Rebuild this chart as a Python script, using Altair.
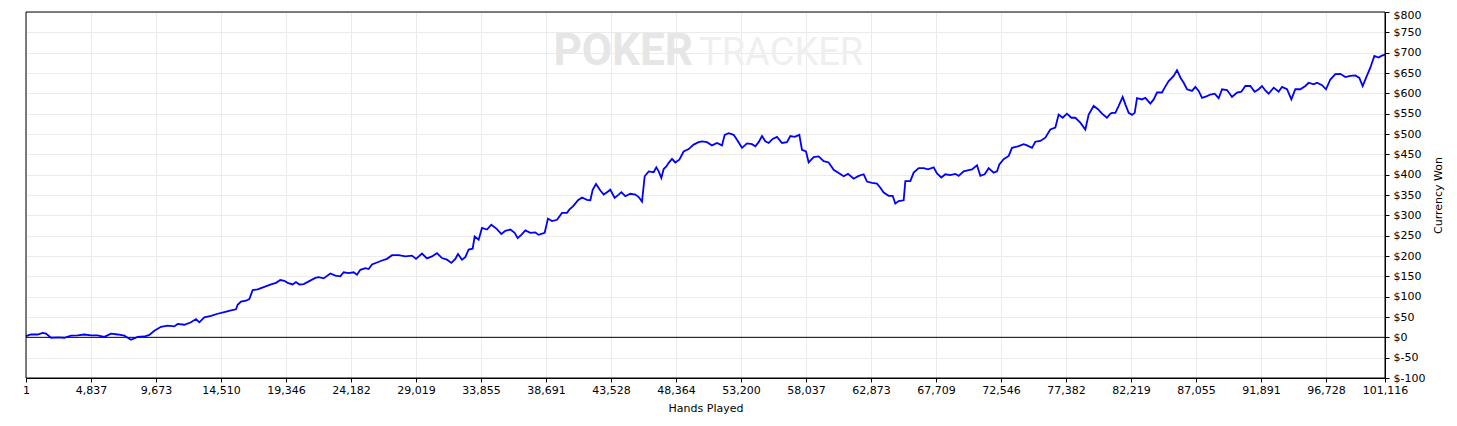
import altair as alt
import pandas as pd

# Hands played (x) and currency won (y)
hands_a = [1,373,869,1241,1489,1861,2357,2853,3349,3845,4341,4837,5333,5829,6325,6821,7317,7813,8309,8805,9177,9549,10045,10541,11037,11285,11781,12277,12649,12897,13269,13765,14261,14757,15253,15625,15749,15997,16369,16617,16865,17237,17733,18229,18601,18923,19221,19469,19841,20089,20337,20660]
won_a = [3,7,7,11,9,-1,0,-1,4,5,7,5,5,1,9,7,4,-6,1,2,6,16,26,29,27,33,31,37,45,37,49,53,58,62,66,69,80,88,90,94,116,118,124,130,134,141,139,134,130,136,130,131]

hands_b = [21528,21776,22148,22644,23016,23388,23636,24008,24380,24628,24876,25248,25496,25744,26116,26488,26860,27232,27728,28224,28720,29018,29464,29836,30208,30580,30952,31324,31647,31944,32143,32440,32688,32936,33234,33383,33680,33928,34300,34623,35044,35367,35664,36036,36359,36582,36855,37152,37524,37896,38144,38591,38839,39136,39508,39880,40252,40426,40748,41071]
won_b = [146,148,145,157,152,150,160,158,160,154,166,170,168,179,184,189,193,202,202,199,201,193,206,194,199,207,195,191,183,193,205,191,197,216,218,248,240,269,265,277,266,254,262,265,257,244,252,263,257,258,252,257,292,286,289,306,306,314,324,337]

hands_c = [41370,41742,41990,42164,42412,42734,42982,43230,43478,43801,44098,44297,44594,44966,45338,45586,45834,46033,46330,46702,46901,47074,47273,47446,47645,47818,48066,48314,48612,48934,49306,49678,50050,50298,50670,51042,51414,51786,51985,52282,52654,52902,53274,53646,54018,54266,54514,54762,55010,55258,55556,55878,56250,56622,56870,57193,57540,57738,58036,58234,58606,58978,59350,59722,60094,60466,60838,61161]
won_c = [344,338,337,363,377,361,351,357,363,343,351,357,347,353,351,345,334,396,408,406,418,408,392,414,420,429,439,430,437,457,463,474,480,482,480,472,478,472,498,502,498,486,466,477,475,470,480,495,482,478,488,493,478,480,495,493,498,461,457,430,443,445,433,430,412,404,396,402]

hands_d = [61583,61955,62327,62575,62947,63319,63567,63815,64187,64485,64683,64931,65303,65427,65799,66047,66419,66791,67114,67535,67783,68106,68403,68775,69147,69395,69767,70139,70387,70759,71007,71330,71627,71999,72247,72421,72743,73115,73363,73859,74231,74479,74851,75099,75471,75843,76215,76587,76835,77133,77455,77778,78075,78447,78819,79067,79439,79762,80059,80431,80679]
won_d = [390,397,401,383,380,378,368,356,348,348,329,335,337,384,384,405,416,416,413,418,403,393,401,399,402,397,408,411,413,423,397,401,416,405,408,425,438,446,466,470,475,472,466,481,483,491,511,516,548,540,550,540,540,528,511,548,569,561,550,540,550]

hands_e = [80805,81053,81301,81599,81797,82045,82293,82492,82665,83037,83285,83657,83905,84153,84525,84724,85021,85393,85641,85889,86137,86385,86757,87005,87253,87501,87873,88121,88444,88741,88989,89361,89733,90105,90428,90725,91097,91420,91717,91965,92213,92461,92833,93205,93453,93825,94148,94445,94817,95189,95437,95809,96057,96429,96727,97049,97421,97793,98165,98537,98909,99207,99455,99703,100025,100323,100645,100844,101116]
won_e = [552,552,569,591,573,552,547,552,588,585,589,575,585,602,602,614,630,643,657,639,626,610,606,616,606,589,593,597,599,588,610,608,591,602,604,618,618,604,610,618,607,599,614,604,616,610,585,610,610,618,626,622,626,620,610,634,647,648,640,643,644,638,618,638,663,692,688,692,695]

x_ticks = [1,4837,9673,14510,19346,24182,29019,33855,38691,43528,48364,53200,58037,62873,67709,72546,77382,82219,87055,91891,96728,101116]
y_ticks = [-100,-50,0,50,100,150,200,250,300,350,400,450,500,550,600,650,700,750,800]

df = pd.DataFrame({
    "hands": hands_a + hands_b + hands_c + hands_d + hands_e,
    "won": won_a + won_b + won_c + won_d + won_e,
})

W, H = 1359, 366
FONT = "DejaVu Sans"

xscale = alt.Scale(domain=[1, 101116], nice=False, zero=False)
yscale = alt.Scale(domain=[-100, 800], nice=False, zero=False)

x_axis = alt.Axis(values=x_ticks, format=",d", title="Hands Played",
                  labelFlush=False, labelOverlap=False, tickSize=4,
                  labelPadding=2, titleY=24)
y_axis = alt.Axis(orient="right", values=y_ticks,
                  labelExpr="'$' + datum.value", title="Currency Won",
                  labelOverlap=False, tickSize=4, labelPadding=4,
                  labelFlush=False,
                  labelOffset={"condition": {"test": "datum.value >= 800", "value": 3}, "value": 0},
                  titleAngle=270, titleX=53, titleY=H / 2,
                  titleBaseline="middle", titleAlign="center")

line = alt.Chart(df).mark_line(color="#0000ff", strokeWidth=1.8).encode(
    x=alt.X("hands:Q", scale=xscale, axis=x_axis),
    y=alt.Y("won:Q", scale=yscale, axis=y_axis),
)

zero = alt.Chart(pd.DataFrame({"won": [0]})).mark_rule(
    color="black", strokeWidth=1
).encode(y=alt.Y("won:Q", scale=yscale, axis=y_axis))

wm1 = alt.Chart(pd.DataFrame({"t": ["POKER"]})).mark_text(
    align="right", baseline="alphabetic", font="Roboto", fontSize=44,
    fontWeight="bold", color="#e6e6e6"
).encode(text="t:N", x=alt.value(667), y=alt.value(53))

wm2 = alt.Chart(pd.DataFrame({"t": ["TRACKER"]})).mark_text(
    align="left", baseline="alphabetic", font="Roboto", fontSize=38,
    fontWeight="normal", color="#efefef"
).encode(text="t:N", x=alt.value(673), y=alt.value(53))

frame = alt.Chart(pd.DataFrame({"k": [0]})).mark_rect(
    filled=False, stroke="black", strokeWidth=1
).encode(x=alt.value(0), x2=alt.value(W), y=alt.value(0), y2=alt.value(H))

chart = alt.layer(wm1, wm2, zero, line, frame).properties(
    width=W, height=H,
    autosize=alt.AutoSizeParams(type="none"),
    padding={"left": 18, "top": 4, "right": 64, "bottom": 40},
    background="white",
).configure_view(
    stroke="black", strokeWidth=1
).configure_axis(
    labelFont=FONT, labelFontSize=11, labelColor="black",
    titleFont=FONT, titleFontSize=11, titleFontWeight="normal", titleColor="black",
    tickColor="black", domainColor="black", gridColor="#ebebeb", gridWidth=1,
)

chart.save("out.html", embed_options={"renderer": "svg", "actions": False})
